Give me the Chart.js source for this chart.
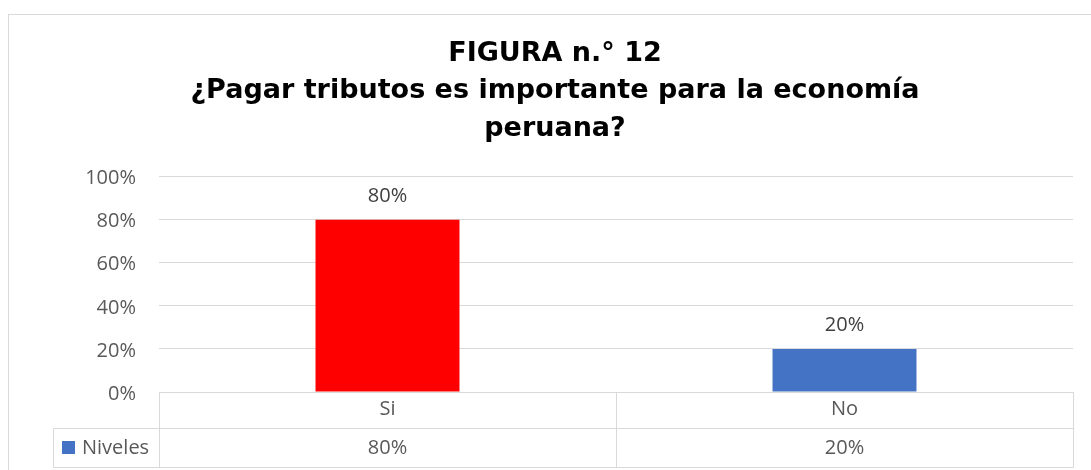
<!DOCTYPE html>
<html>
<head>
<meta charset="utf-8">
<script src="https://cdn.jsdelivr.net/npm/chart.js@4"></script>
<style>
  html, body { margin: 0; padding: 0; background: #ffffff; }
  #wrap { width: 1091px; height: 470px; position: relative; }
</style>
</head>
<body>
<div id="wrap"><canvas id="c" width="1091" height="470"></canvas></div>
<script>
const titleLines = ["FIGURA n.° 12", "¿Pagar tributos es importante para la economía", "peruana?"];
const categories = ["Si", "No"];
const seriesName = "Niveles";
const values = [80, 20];
const barColors = ["#FF0000", "#4472C4"];
const legendColor = "#4472C4";
const yTicks = [0, 20, 40, 60, 80, 100];

const GRID = "#d9d9d9";
const TEXT = "#595959";
const LABEL = "#404040";
const FONT = "'Open Sans', 'DejaVu Sans', sans-serif";

const pct = v => v + "%";

const tablePlugin = {
  id: "tablePlugin",
  afterDraw(chart) {
    const ctx = chart.ctx;
    const area = chart.chartArea;
    const x = chart.scales.x;
    const row1 = 36, row2 = 39;
    const yTop = area.bottom;
    const yMid = yTop + row1;
    const yBot = yMid + row2;
    const legendLeft = 53;
    ctx.save();
    ctx.strokeStyle = GRID;
    ctx.lineWidth = 1;
    const line = (x1, y1, x2, y2) => {
      ctx.beginPath();
      ctx.moveTo(Math.round(x1) + 0.5, Math.round(y1) + 0.5);
      ctx.lineTo(Math.round(x2) + 0.5, Math.round(y2) + 0.5);
      ctx.stroke();
    };
    // outer chart border
    ctx.strokeRect(8.5, 14.5, 1200, 600);
    // horizontal table lines
    line(legendLeft, yMid, area.right, yMid);
    line(legendLeft, yBot, area.right, yBot);
    // vertical lines
    line(legendLeft, yMid, legendLeft, yBot);
    line(area.left, yTop, area.left, yBot);
    for (let i = 0; i < categories.length - 1; i++) {
      const xm = (x.getPixelForValue(i) + x.getPixelForValue(i + 1)) / 2;
      line(xm, yTop, xm, yBot);
    }
    line(area.right, yTop, area.right, yBot);
    // legend key
    ctx.fillStyle = legendColor;
    ctx.fillRect(62, yMid + 13, 13, 13);
    ctx.fillStyle = TEXT;
    ctx.font = "20px " + FONT;
    ctx.textBaseline = "alphabetic";
    ctx.textAlign = "left";
    ctx.fillText(seriesName, 82, yMid + 26);
    // values row
    ctx.textAlign = "center";
    values.forEach((v, i) => {
      ctx.fillText(pct(v), x.getPixelForValue(i), yMid + 26);
    });
    // data labels above bars
    const meta = chart.getDatasetMeta(0);
    ctx.fillStyle = LABEL;
    meta.data.forEach((bar, i) => {
      ctx.fillText(pct(values[i]), bar.x, bar.y - 18);
    });
    ctx.restore();
  }
};

new Chart(document.getElementById("c"), {
  type: "bar",
  data: {
    labels: categories,
    datasets: [{
      label: seriesName,
      data: values,
      backgroundColor: barColors,
      borderWidth: 0,
      categoryPercentage: 1,
      barPercentage: 0.315
    }]
  },
  options: {
    responsive: false,
    animation: false,
    devicePixelRatio: 1,
    layout: { padding: { left: 37, right: 18, top: 0, bottom: 0 } },
    plugins: {
      legend: { display: false },
      tooltip: { enabled: false },
      title: {
        display: true,
        text: titleLines,
        color: "#000000",
        font: { family: "'DejaVu Sans', sans-serif", size: 27, weight: "bold", lineHeight: 1.39 },
        padding: { top: 35, bottom: 29 }
      }
    },
    scales: {
      x: {
        grid: { display: false, drawTicks: false },
        border: { display: true, color: GRID, width: 1 },
        ticks: { color: TEXT, font: { family: FONT, size: 20 }, padding: 5 },
        afterFit(s) { s.height = 78; }
      },
      y: {
        min: 0,
        max: 100,
        afterBuildTicks(s) { s.ticks = yTicks.map(v => ({ value: v })); },
        grid: { color: GRID, lineWidth: 1, drawTicks: false },
        border: { display: false },
        ticks: { color: TEXT, font: { family: FONT, size: 20 }, padding: 23, labelOffset: 2, callback: v => pct(v) },
        afterFit(s) { s.width = 122; }
      }
    }
  },
  plugins: [tablePlugin]
});
</script>
</body>
</html>
